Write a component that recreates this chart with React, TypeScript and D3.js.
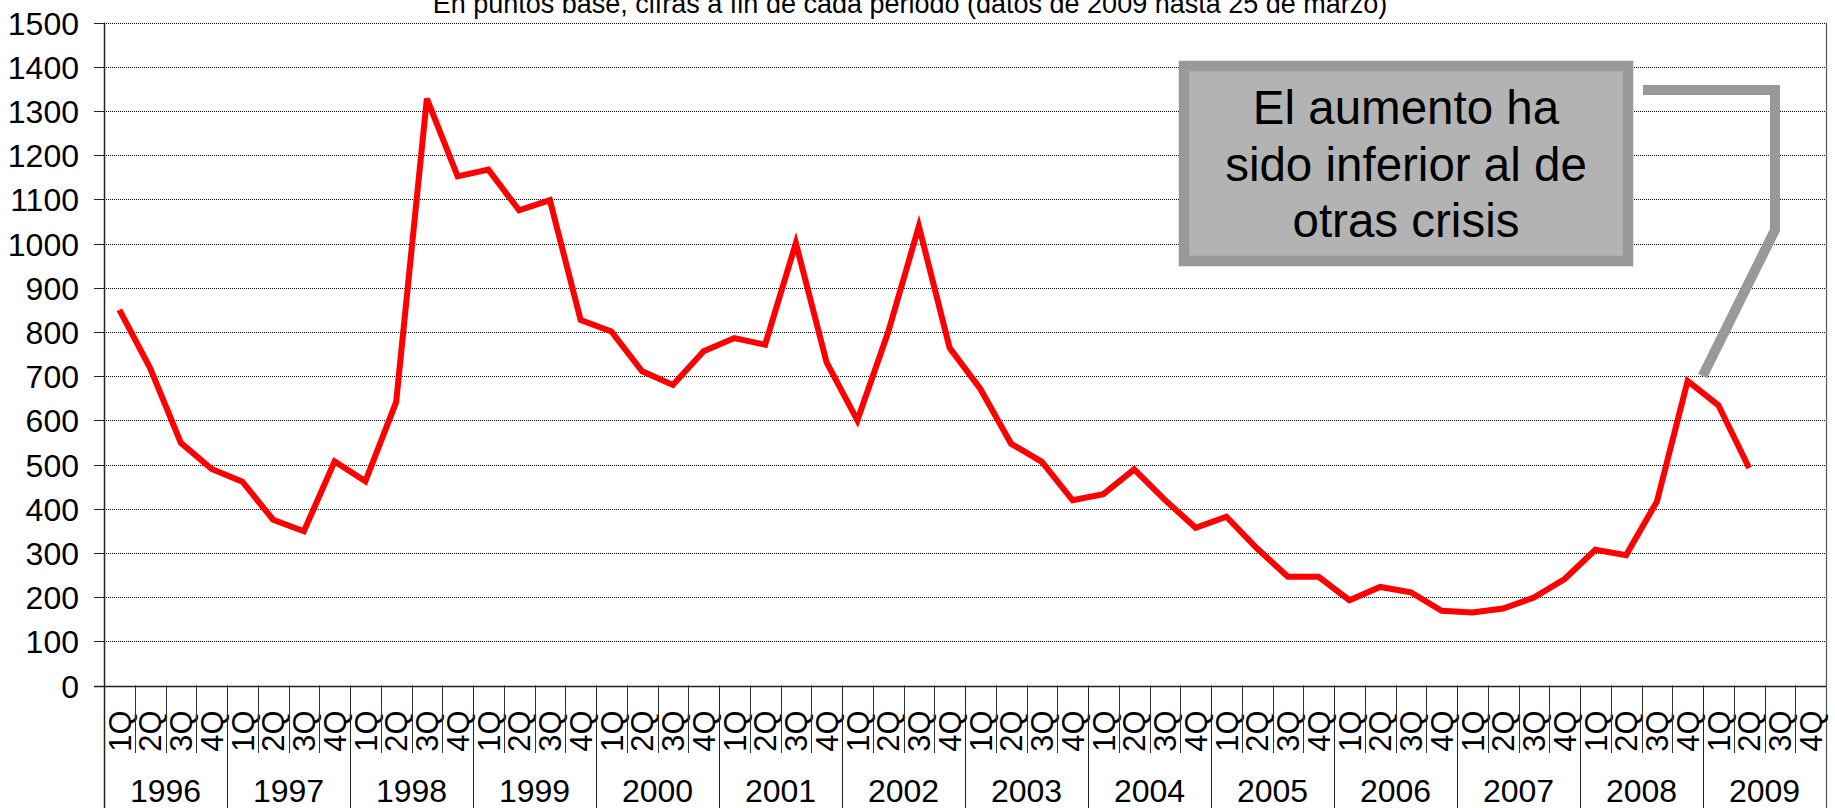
import React from 'react';
import * as d3 from 'd3';

const years = ['1996', '1997', '1998', '1999', '2000', '2001', '2002', '2003', '2004', '2005', '2006', '2007', '2008', '2009'];
const quarters = ['1Q', '2Q', '3Q', '4Q'];
const spreadValues = [
  850, 718, 549, 490,
  461, 375, 349, 507,
  462, 641, 1328, 1152,
  1167, 1075, 1098, 827,
  801, 711, 680, 756,
  786, 771, 1001, 731,
  600, 799, 1039, 764,
  671, 547, 506, 419,
  433, 489, 420, 357,
  382, 310, 246, 246,
  193, 223, 211, 169,
  165, 174, 199, 241,
  307, 295, 416, 689,
  634, 492,
];
const yTicks = [0, 100, 200, 300, 400, 500, 600, 700, 800, 900, 1000, 1100, 1200, 1300, 1400, 1500];
const titleText = 'En puntos base, cifras a fin de cada periodo (datos de 2009 hasta 25 de marzo)';
const noteLines = ['El aumento ha', 'sido inferior al de', 'otras crisis'];

const W = 1835;
const H = 808;
const FONT = '"Liberation Sans", Arial, Helvetica, sans-serif';

export default function App() {
  const categories = years.flatMap((y) => quarters.map((q) => `${y}-${q}`));
  const x = d3.scaleBand<string>().domain(categories).range([104, 1826]).padding(0);
  const y = d3.scaleLinear().domain([0, 1500]).range([685.5, 22.5]);
  const bw = x.bandwidth();
  const cx = (i: number) => (x(categories[i]) as number) + bw / 2;

  const line = d3
    .line<number>()
    .x((_, i) => cx(i))
    .y((d) => y(d));

  const x0 = 104;
  const x1 = 1826;
  const yBase = y(0);

  const anchorIdx = categories.indexOf('2008-4Q');
  const ax = cx(anchorIdx) + 15;
  const ay = y(spreadValues[anchorIdx]) - 5;
  const callout: [number, number][] = [
    [1643, 90],
    [1775, 90],
    [1775, 230],
    [ax, ay],
  ];

  return (
    <svg
      width={W}
      height={H}
      style={{ position: 'absolute', left: 0, top: 0, background: '#fff' }}
      fontFamily={FONT}
    >
      <rect x={0} y={0} width={W} height={H} fill="#fff" />
      <text x={910} y={12.5} fontSize={27} textAnchor="middle" fill="#000">
        {titleText}
      </text>

      {yTicks.map((t) => {
        const yy = Math.round(y(t)) + 0.5;
        return (
          <g key={t}>
            {t > 0 && (
              <line x1={x0} x2={x1} y1={yy} y2={yy} stroke="#000" strokeWidth={1} strokeDasharray="1,1" />
            )}
            <line x1={94} x2={x0} y1={yy} y2={yy} stroke="#222" strokeWidth={1} />
            <text x={79} y={yy} dy="0.36em" fontSize={32} textAnchor="end" fill="#000">
              {t}
            </text>
          </g>
        );
      })}

      <line x1={x1 + 0.5} x2={x1 + 0.5} y1={y(1500)} y2={H} stroke="#555" strokeWidth={1.2} />

      {categories.map((c, i) => {
        const left = Math.round(x(c) as number) + 0.5;
        const isYear = i % 4 === 0;
        return (
          <g key={c}>
            {!isYear && <line x1={left} x2={left} y1={yBase} y2={753} stroke="#333" strokeWidth={1} />}
            <text
              transform={`translate(${cx(i)},731) rotate(-90)`}
              dy="0.36em"
              fontSize={31}
              textAnchor="middle"
              fill="#000"
            >
              {quarters[i % 4]}
            </text>
          </g>
        );
      })}

      {years.map((yr, k) => {
        const left = Math.round(x(`${yr}-1Q`) as number) + 0.5;
        const mid = (x(`${yr}-1Q`) as number) + bw * 2;
        return (
          <g key={yr}>
            <line x1={left} x2={left} y1={k === 0 ? y(1500) : yBase} y2={H} stroke="#222" strokeWidth={k === 0 ? 1.5 : 1} />
            <text x={mid} y={801.5} fontSize={32} textAnchor="middle" fill="#000">
              {yr}
            </text>
          </g>
        );
      })}

      <line x1={94} x2={x1} y1={Math.round(yBase) + 0.5} y2={Math.round(yBase) + 0.5} stroke="#222" strokeWidth={1.5} />

      <path d={line(spreadValues) || ''} fill="none" stroke="#ff0000" strokeWidth={6} strokeLinejoin="miter" />

      <rect x={1184} y={66} width={444} height={195} fill="#b3b3b3" stroke="#999999" strokeWidth={10.5} />
      {noteLines.map((l, i) => (
        <text key={l} x={1406} y={[124, 181, 237][i]} fontSize={47.5} textAnchor="middle" fill="#000">
          {l}
        </text>
      ))}
      <polyline
        points={callout.map((p) => p.join(',')).join(' ')}
        fill="none"
        stroke="#999999"
        strokeWidth={10}
        strokeLinejoin="miter"
        strokeLinecap="butt"
      />
    </svg>
  );
}
